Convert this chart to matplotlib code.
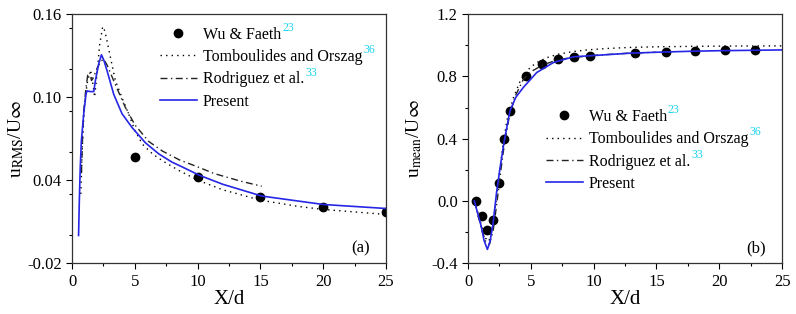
import numpy as np
import matplotlib
matplotlib.use('Agg')
import matplotlib.pyplot as plt
from matplotlib.ticker import MultipleLocator

plt.rcParams['font.family'] = ['Liberation Serif', 'DejaVu Serif']
plt.rcParams['mathtext.fontset'] = 'stix'

# ---- (a) u_RMS / U_inf ----
exp_x_a = [5.0, 10.0, 15.0, 20.0, 25.0]
exp_y_a = [0.057, 0.0425, 0.0278, 0.0207, 0.0170]

tomb_x_a = [0.7, 0.8, 0.9, 1.0, 1.2, 1.4, 1.5, 1.65, 1.8, 2.0, 2.2, 2.44, 2.6, 2.8, 3.05,
            3.45, 4.0, 4.5, 5.0, 5.6, 6.4, 7.2, 8.5, 10.0, 12.0, 15.0, 18.0, 20.0, 25.0]
tomb_y_a = [0.030, 0.060, 0.080, 0.095, 0.110, 0.117, 0.118, 0.110, 0.100, 0.118, 0.138, 0.151,
            0.148, 0.140, 0.129, 0.112, 0.099, 0.088, 0.076, 0.066, 0.059, 0.054, 0.047, 0.040,
            0.033, 0.0255, 0.021, 0.0188, 0.0152]

rodr_x_a = [0.75, 0.85, 0.95, 1.1, 1.25, 1.4, 1.55, 1.7, 2.0, 2.3, 2.52, 2.8, 3.45, 4.25,
            5.0, 6.1, 7.2, 8.6, 10.0, 11.3, 13.4, 15.1]
rodr_y_a = [0.045, 0.075, 0.092, 0.106, 0.116, 0.118, 0.112, 0.114, 0.121, 0.126, 0.1275,
            0.123, 0.109, 0.0925, 0.080, 0.068, 0.061, 0.0544, 0.0496, 0.0448, 0.0393, 0.0356]

pres_x_a = [0.52, 0.58, 0.65, 0.74, 0.93, 1.11, 1.19, 1.45, 1.73, 1.86, 2.12, 2.34, 2.52,
            2.79, 3.32, 3.98, 4.78, 5.84, 6.9, 7.96, 8.76, 10.14, 12.0, 15.1, 20.0, 25.0]
pres_y_a = [0.0, 0.025, 0.048, 0.068, 0.088, 0.102, 0.1045, 0.104, 0.104, 0.112, 0.124, 0.1306,
            0.127, 0.119, 0.102, 0.088, 0.078, 0.067, 0.059, 0.053, 0.0496, 0.0435, 0.037,
            0.0285, 0.0224, 0.0195]

# ---- (b) u_mean / U_inf ----
exp_x_b = [0.61, 1.09, 1.49, 1.99, 2.44, 2.87, 3.32, 4.59, 5.89, 7.19, 8.44, 9.69,
           13.32, 15.74, 18.07, 20.46, 22.82]
exp_y_b = [0.0, -0.096, -0.188, -0.124, 0.112, 0.395, 0.579, 0.804, 0.879, 0.911, 0.922,
           0.930, 0.951, 0.958, 0.964, 0.969, 0.971]

tomb_x_b = [0.5, 0.8, 1.1, 1.4, 1.65, 1.9, 2.2, 2.5, 2.8, 3.1, 3.6, 4.2, 4.94, 5.5, 6.26,
            7.2, 8.4, 9.5, 11.0, 12.9, 15.0, 18.0, 21.0, 25.0]
tomb_y_b = [0.0, -0.08, -0.17, -0.24, -0.26, -0.20, -0.02, 0.18, 0.37, 0.52, 0.66, 0.78,
            0.857, 0.89, 0.92, 0.943, 0.96, 0.97, 0.979, 0.986, 0.99, 0.993, 0.995, 0.996]

rodr_x_b = [0.5, 0.8, 1.1, 1.4, 1.7, 2.0, 2.3, 2.6, 2.9, 3.3, 3.8, 4.4, 5.0, 6.0, 7.0, 8.0,
            10.0, 13.0, 15.0]
rodr_y_b = [0.0, -0.09, -0.19, -0.26, -0.28, -0.19, -0.01, 0.19, 0.37, 0.55, 0.68, 0.78,
            0.83, 0.875, 0.903, 0.918, 0.935, 0.95, 0.955]

pres_x_b = [0.5, 0.6, 0.8, 1.06, 1.27, 1.54, 1.75, 1.99, 2.26, 2.52, 2.87, 3.34, 3.8, 4.4,
            5.47, 6.8, 8.4, 10.2, 12.9, 15.0, 18.0, 20.0, 25.0]
pres_y_b = [0.0, -0.03, -0.09, -0.167, -0.253, -0.312, -0.26, -0.145, 0.048, 0.197, 0.38,
            0.579, 0.665, 0.729, 0.825, 0.889, 0.926, 0.935, 0.949, 0.955, 0.962, 0.965, 0.97]

labels = ['Wu & Faeth', 'Tomboulides and Orszag', 'Rodriguez et al.', 'Present']
refs = ['23', '36', '33', None]

fig = plt.figure(figsize=(7.96, 3.14), dpi=100)
ax1 = fig.add_axes([0.0905, 0.162, 0.3945, 0.793])
ax2 = fig.add_axes([0.588, 0.162, 0.3945, 0.793])


def draw(ax, ex, ey, tx, ty, rx, ry, px, py):
    ax.plot(ex, ey, 'o', color='black', markersize=6, label=labels[0])
    ax.plot(tx, ty, linestyle=(0, (1, 3)), color='black', lw=1.0, label=labels[1])
    ax.plot(rx, ry, linestyle=(0, (5, 2.5, 1, 2.5)), color='#222222', lw=1.0, label=labels[2])
    ax.plot(px, py, '-', color='#2626e6', lw=1.2, label=labels[3])


def style(ax, ymin, ymax, ystep, tag, ylabel, leg_anchor, pad):
    ax.set_xlim(0, 25)
    ax.set_ylim(ymin, ymax)
    ax.xaxis.set_major_locator(MultipleLocator(5))
    ax.xaxis.set_minor_locator(MultipleLocator(2.5))
    ax.yaxis.set_major_locator(MultipleLocator(ystep))
    ax.yaxis.set_minor_locator(MultipleLocator(ystep / 2))
    ax.tick_params(which='major', direction='out', length=4, width=0.8, labelsize=12)
    ax.tick_params(which='minor', direction='out', length=2.5, width=0.8)
    for s in ax.spines.values():
        s.set_color('#333333')
        s.set_linewidth(0.9)
    ax.set_xlabel('X/d', fontsize=15, labelpad=0)
    ax.set_ylabel(ylabel, fontsize=14, labelpad=pad)
    ax.text(0.95, 0.06, tag, transform=ax.transAxes, ha='right', va='center', fontsize=12)
    leg = ax.legend(loc='upper left', bbox_to_anchor=leg_anchor, frameon=False,
                    fontsize=11.5, handlelength=2.3, handletextpad=0.4, labelspacing=0.4,
                    borderpad=0, borderaxespad=0)
    for t, r in zip(leg.get_texts(), refs):
        if r:
            ax.annotate(r, xy=(1, 0.55), xycoords=t, xytext=(0.5, 0),
                        textcoords='offset points', fontsize=8.5, color='#19d3f0',
                        va='bottom', ha='left', zorder=10)


draw(ax1, exp_x_a, exp_y_a, tomb_x_a, tomb_y_a, rodr_x_a, rodr_y_a, pres_x_a, pres_y_a)
style(ax1, -0.02, 0.16, 0.06, '(a)', r'u$_{\mathrm{RMS}}$/U$\infty$', (0.28, 0.95), 1)
ax1.set_yticks([-0.02, 0.04, 0.10, 0.16])
ax1.set_yticklabels(['-0.02', '0.04', '0.10', '0.16'])

draw(ax2, exp_x_b, exp_y_b, tomb_x_b, tomb_y_b, rodr_x_b, rodr_y_b, pres_x_b, pres_y_b)
style(ax2, -0.4, 1.2, 0.4, '(b)', r'u$_{\mathrm{mean}}$/U$\infty$', (0.248, 0.62), 5)
ax2.set_yticks([-0.4, 0.0, 0.4, 0.8, 1.2])
ax2.set_yticklabels(['-0.4', '0.0', '0.4', '0.8', '1.2'])

fig.savefig('out.png', dpi=100)
